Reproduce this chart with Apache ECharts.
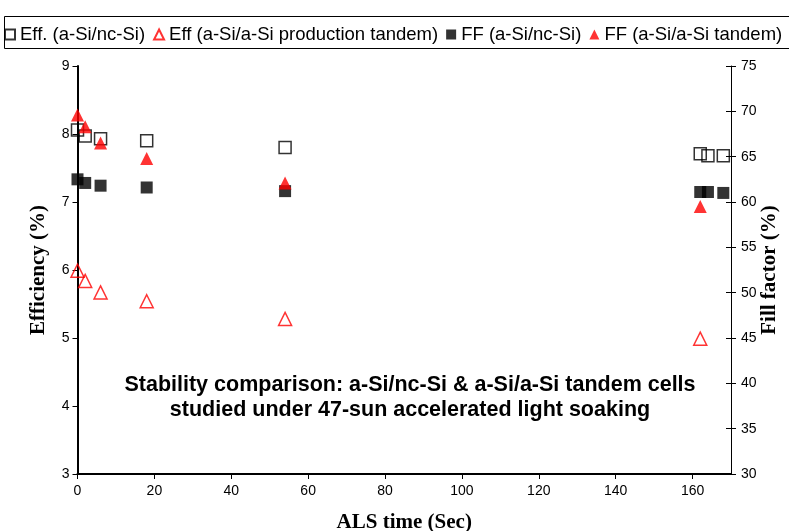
<!DOCTYPE html>
<html>
<head>
<meta charset="utf-8">
<script src="https://cdn.jsdelivr.net/npm/echarts@6/dist/echarts.min.js"></script>
<style>
  html, body { margin: 0; padding: 0; background: #fff; }
  #chart { width: 789px; height: 531px; }
</style>
</head>
<body>
<div id="chart"></div>
<script>
// ALS exposure times (seconds) and measured values for each cell type
const effNcTime   = [0, 2, 6, 18, 54, 162, 164, 168];
const effNc       = [8.06, 7.97, 7.93, 7.90, 7.80, 7.71, 7.68, 7.68];
const effProdTime = [0, 2, 6, 18, 54, 162];
const effProd     = [5.99, 5.84, 5.67, 5.54, 5.28, 4.99];
const ffNcTime    = [0, 2, 6, 18, 54, 162, 164, 168];
const ffNc        = [62.5, 62.1, 61.8, 61.6, 61.2, 61.1, 61.1, 61.0];
const ffTanTime   = [0, 2, 6, 18, 54, 162];
const ffTan       = [69.6, 68.3, 66.5, 64.8, 62.1, 59.5];

const seriesNames = [
  'Eff. (a-Si/nc-Si)',
  'Eff (a-Si/a-Si production tandem)',
  'FF (a-Si/nc-Si)',
  'FF (a-Si/a-Si tandem)'
];
const noteLines = [
  'Stability comparison: a-Si/nc-Si & a-Si/a-Si tandem cells',
  'studied under 47-sun accelerated light soaking'
];
const rightAxisTitle = 'Fill factor (%)';

const pairs = (xs, ys) => xs.map((x, i) => [x, ys[i]]);

const SANS = 'Liberation Sans, Arial, sans-serif';
const SERIF = 'Liberation Serif, Times New Roman, serif';
const nameStyle = { fontFamily: SERIF, fontWeight: 'bold', fontSize: 21, color: '#000' };
const tickText = { fontFamily: SANS, fontSize: 14, color: '#000' };

const chart = echarts.init(document.getElementById('chart'), null, { renderer: 'canvas' });

chart.setOption({
  animation: false,
  backgroundColor: '#fff',
  grid: {
    left: 77.5, right: 58, top: 66, bottom: 57,
    containLabel: false, outerBoundsMode: 'none'
  },
  legend: {
    left: 4, top: 25, width: 785, padding: 0,
    itemWidth: 10, itemHeight: 10, itemGap: 8,
    textStyle: { fontFamily: SANS, fontSize: 18.5, color: '#000' },
    data: [
      { name: seriesNames[0], icon: 'rect' },
      { name: seriesNames[1], icon: 'triangle' },
      { name: seriesNames[2], icon: 'rect' },
      { name: seriesNames[3], icon: 'triangle' }
    ]
  },
  graphic: [
    {
      type: 'rect', left: 2, top: 14, silent: true,
      shape: { width: 785, height: 32 },
      style: { fill: 'none', stroke: '#000', lineWidth: 1 }
    },
    {
      type: 'text', x: 410, y: 373, silent: true,
      style: {
        text: noteLines.join('\n'), textAlign: 'center',
        font: 'bold 21.5px ' + SANS, fill: '#000', lineHeight: 25
      }
    },
    {
      // title of the fill-factor axis, reading upward
      type: 'text', x: 770, y: 270, rotation: Math.PI / 2, silent: true,
      style: {
        text: rightAxisTitle, textAlign: 'center', textVerticalAlign: 'middle',
        font: 'bold 21px ' + SERIF, fill: '#000'
      }
    }
  ],
  xAxis: {
    type: 'value', min: 0, max: 170, interval: 20,
    name: 'ALS time (Sec)', nameLocation: 'middle', nameGap: 38,
    nameTextStyle: nameStyle,
    axisLine: { lineStyle: { color: '#000', width: 2 } },
    axisTick: { length: 5, lineStyle: { color: '#000' } },
    axisLabel: Object.assign({ margin: 10, showMaxLabel: false }, tickText),
    splitLine: { show: false }
  },
  yAxis: [
    {
      type: 'value', min: 3, max: 9, interval: 1, position: 'left',
      name: 'Efficiency (%)', nameLocation: 'middle', nameGap: 28, nameRotate: 90,
      nameTextStyle: nameStyle,
      axisLine: { show: true, lineStyle: { color: '#000', width: 2 } },
      axisTick: { show: true, length: 5, lineStyle: { color: '#000' } },
      axisLabel: Object.assign({ margin: 8 }, tickText),
      splitLine: { show: false }
    },
    {
      type: 'value', min: 30, max: 75, interval: 5, position: 'right',
      axisLine: { show: true, lineStyle: { color: '#000', width: 1 } },
      axisTick: { show: true, length: 5, lineStyle: { color: '#000' } },
      axisLabel: Object.assign({ margin: 10 }, tickText),
      splitLine: { show: false }
    },
    {
      // inner half of the crossing ticks on the fill-factor axis
      type: 'value', min: 30, max: 75, interval: 5, position: 'right',
      axisLine: { show: false },
      axisTick: { show: true, inside: true, length: 5, lineStyle: { color: '#000' } },
      axisLabel: { show: false },
      splitLine: { show: false }
    }
  ],
  series: [
    {
      name: seriesNames[0], type: 'scatter', yAxisIndex: 0,
      symbol: 'rect', symbolSize: 12,
      itemStyle: { color: 'rgba(255,255,255,0)', borderColor: '#000', borderWidth: 1.5 },
      data: pairs(effNcTime, effNc)
    },
    {
      name: seriesNames[1], type: 'scatter', yAxisIndex: 0,
      symbol: 'triangle', symbolSize: 13,
      itemStyle: { color: 'rgba(255,255,255,0)', borderColor: '#ff0000', borderWidth: 1.5 },
      data: pairs(effProdTime, effProd)
    },
    {
      name: seriesNames[2], type: 'scatter', yAxisIndex: 1,
      symbol: 'rect', symbolSize: 12,
      itemStyle: { color: '#000' },
      data: pairs(ffNcTime, ffNc)
    },
    {
      name: seriesNames[3], type: 'scatter', yAxisIndex: 1,
      symbol: 'triangle', symbolSize: 13,
      itemStyle: { color: '#ff0000' },
      data: pairs(ffTanTime, ffTan)
    }
  ]
});
</script>
</body>
</html>
